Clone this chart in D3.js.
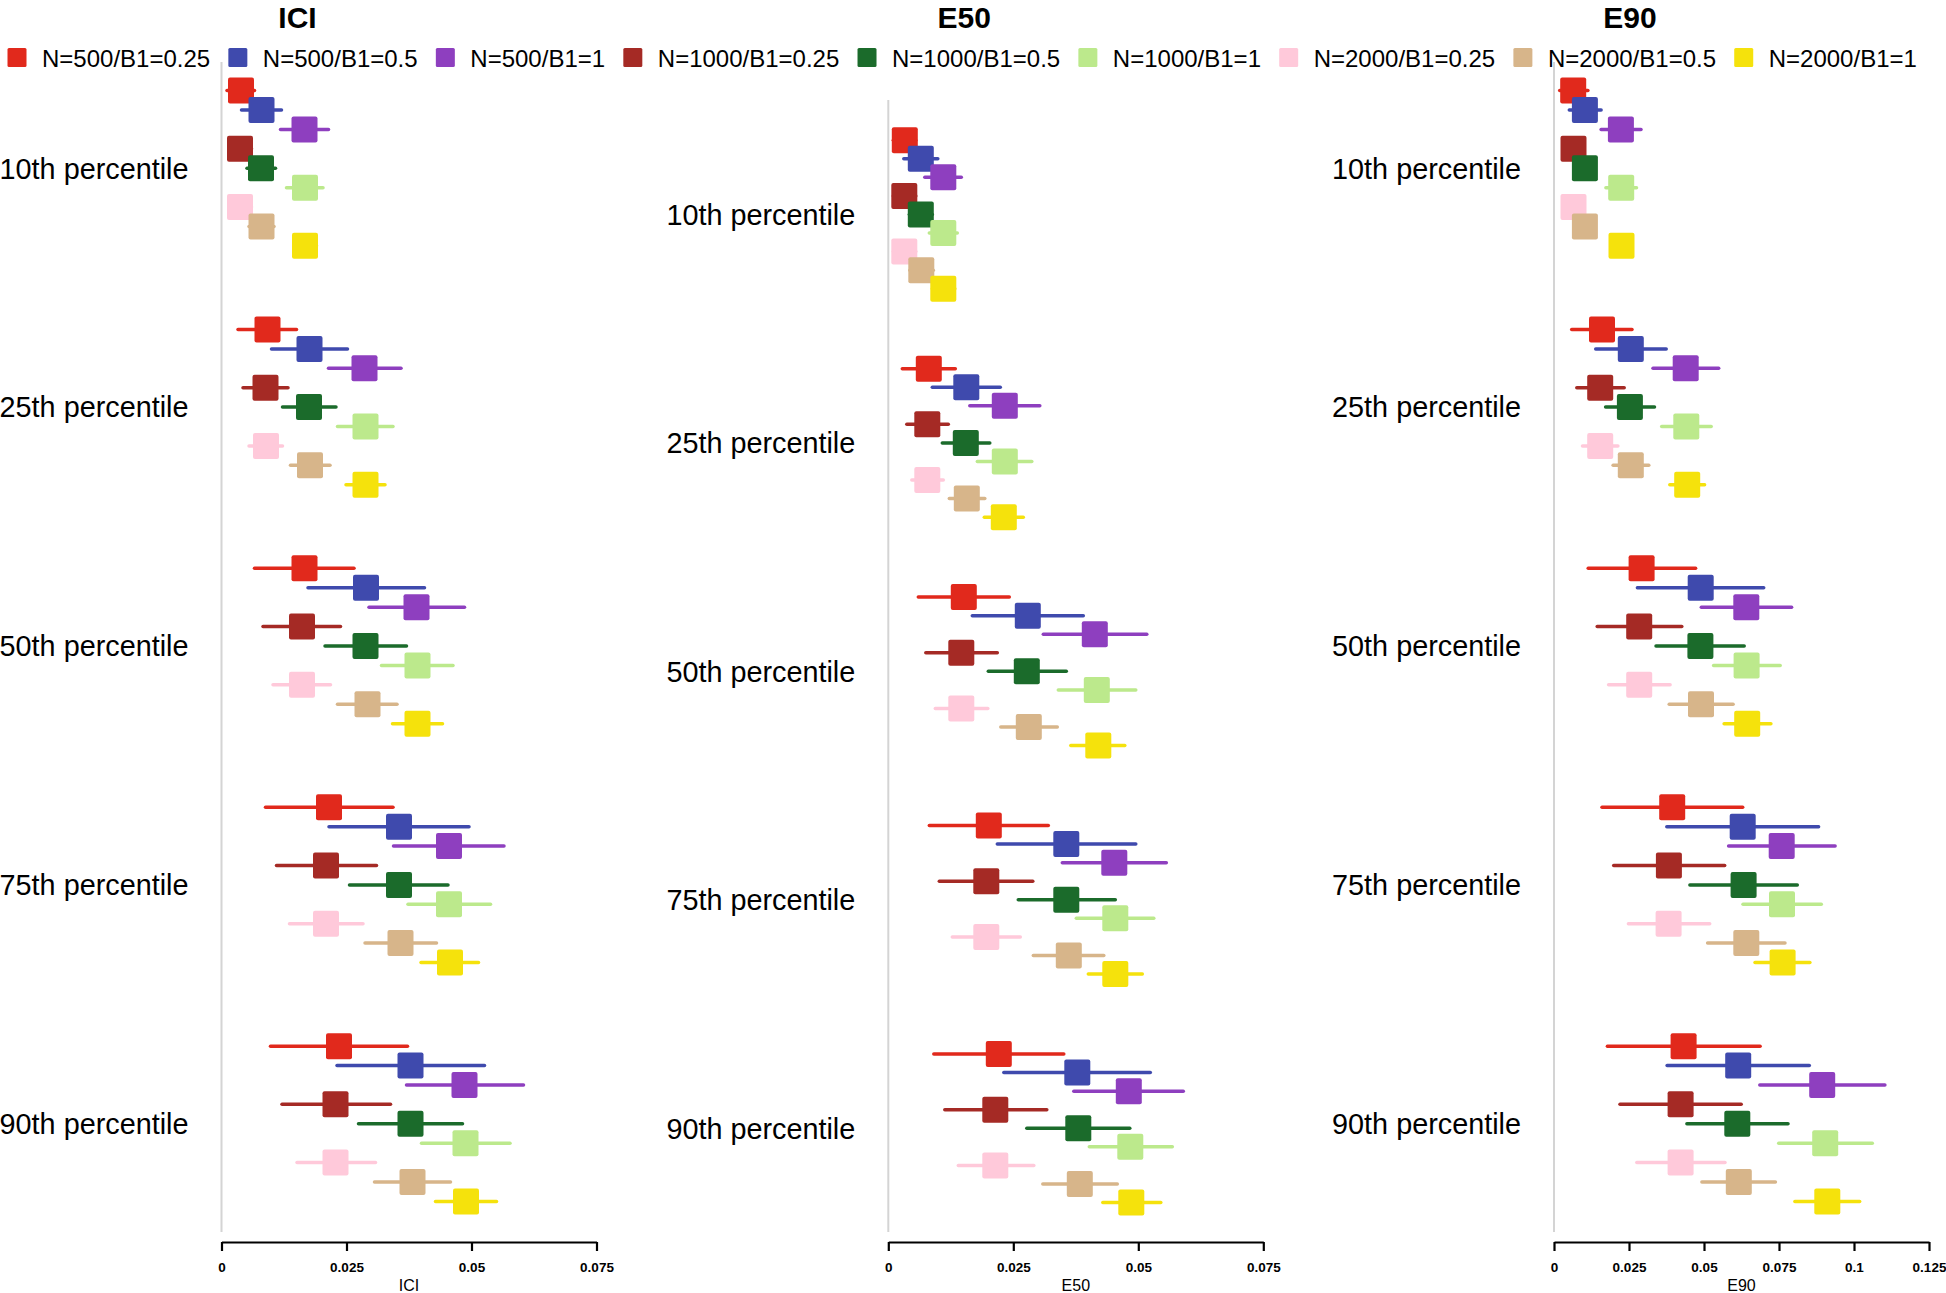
<!DOCTYPE html>
<html><head><meta charset="utf-8">
<script src="https://cdn.jsdelivr.net/npm/d3@7"></script>
<style>html,body{margin:0;padding:0;background:#fff;}svg{display:block;font-family:"Liberation Sans",Arial,Helvetica,sans-serif;}</style>
</head><body>
<svg id="chart" width="1946" height="1293"></svg>
<script>
const percentiles = ["10th percentile","25th percentile","50th percentile","75th percentile","90th percentile"];
const seriesNames = ["N=500/B1=0.25","N=500/B1=0.5","N=500/B1=1","N=1000/B1=0.25","N=1000/B1=0.5","N=1000/B1=1","N=2000/B1=0.25","N=2000/B1=0.5","N=2000/B1=1"];
const seriesColors = ["#e1291c","#3f4aad","#8e3fbf","#a52a25","#1b6b2b","#bce98c","#ffc9da","#d7b58a","#f5e20c"];
const panelTitles = ["ICI","E50","E90"];
const iciTicks = [0,0.025,0.05,0.075];
const e50Ticks = [0,0.025,0.05,0.075];
const e90Ticks = [0,0.025,0.05,0.075,0.1,0.125];

// rows = percentiles, columns = series
const iciEst = [
 [0.0039,0.0080,0.0166,0.0037,0.0079,0.0167,0.0037,0.0080,0.0167],
 [0.0092,0.0176,0.0286,0.0088,0.0175,0.0288,0.0089,0.0177,0.0288],
 [0.0166,0.0289,0.0390,0.0161,0.0288,0.0392,0.0161,0.0292,0.0392],
 [0.0215,0.0355,0.0455,0.0209,0.0355,0.0455,0.0209,0.0358,0.0457],
 [0.0235,0.0378,0.0486,0.0228,0.0378,0.0488,0.0228,0.0382,0.0489]];
const iciLo = [
 [0.0011,0.0040,0.0118,0.0015,0.0051,0.0130,0.0015,0.0055,0.0145],
 [0.0033,0.0100,0.0214,0.0043,0.0122,0.0232,0.0055,0.0138,0.0249],
 [0.0066,0.0173,0.0295,0.0083,0.0207,0.0320,0.0103,0.0232,0.0342],
 [0.0088,0.0215,0.0344,0.0110,0.0256,0.0373,0.0136,0.0287,0.0399],
 [0.0098,0.0231,0.0370,0.0121,0.0274,0.0400,0.0151,0.0306,0.0428]];
const iciHi = [
 [0.0066,0.0120,0.0214,0.0060,0.0108,0.0203,0.0060,0.0105,0.0190],
 [0.0150,0.0252,0.0359,0.0133,0.0229,0.0343,0.0122,0.0217,0.0327],
 [0.0265,0.0406,0.0486,0.0238,0.0370,0.0463,0.0218,0.0351,0.0442],
 [0.0343,0.0495,0.0565,0.0310,0.0453,0.0538,0.0283,0.0430,0.0514],
 [0.0372,0.0526,0.0604,0.0338,0.0482,0.0577,0.0308,0.0458,0.0550]];

const e50Est = [
 [0.0033,0.0065,0.0110,0.0032,0.0065,0.0110,0.0032,0.0066,0.0110],
 [0.0081,0.0156,0.0233,0.0078,0.0155,0.0233,0.0078,0.0157,0.0231],
 [0.0151,0.0279,0.0413,0.0146,0.0277,0.0417,0.0146,0.0281,0.0420],
 [0.0201,0.0356,0.0452,0.0196,0.0356,0.0454,0.0196,0.0361,0.0454],
 [0.0221,0.0378,0.0481,0.0214,0.0380,0.0484,0.0214,0.0383,0.0486]];
const e50Lo = [
 [0.0010,0.0031,0.0073,0.0010,0.0042,0.0082,0.0010,0.0043,0.0088],
 [0.0028,0.0088,0.0163,0.0037,0.0108,0.0178,0.0047,0.0122,0.0192],
 [0.0060,0.0168,0.0310,0.0075,0.0200,0.0340,0.0094,0.0225,0.0365],
 [0.0082,0.0218,0.0348,0.0102,0.0260,0.0376,0.0128,0.0290,0.0400],
 [0.0091,0.0231,0.0371,0.0113,0.0277,0.0402,0.0140,0.0309,0.0429]];
const e50Hi = [
 [0.0055,0.0099,0.0146,0.0055,0.0088,0.0138,0.0055,0.0090,0.0133],
 [0.0134,0.0224,0.0303,0.0120,0.0203,0.0287,0.0110,0.0193,0.0270],
 [0.0242,0.0390,0.0517,0.0218,0.0356,0.0495,0.0199,0.0338,0.0473],
 [0.0320,0.0495,0.0556,0.0289,0.0454,0.0531,0.0264,0.0431,0.0508],
 [0.0351,0.0524,0.0590,0.0317,0.0483,0.0568,0.0291,0.0458,0.0545]];

const e90Est = [
 [0.0064,0.0103,0.0223,0.0065,0.0103,0.0224,0.0065,0.0103,0.0225],
 [0.0160,0.0256,0.0439,0.0154,0.0253,0.0441,0.0154,0.0256,0.0444],
 [0.0292,0.0489,0.0641,0.0284,0.0488,0.0642,0.0284,0.0490,0.0644],
 [0.0394,0.0629,0.0759,0.0383,0.0632,0.0760,0.0382,0.0641,0.0762],
 [0.0432,0.0614,0.0894,0.0422,0.0611,0.0904,0.0422,0.0616,0.0911]];
const e90Lo = [
 [0.0019,0.0051,0.0157,0.0035,0.0075,0.0173,0.0035,0.0075,0.0195],
 [0.0059,0.0139,0.0330,0.0076,0.0172,0.0359,0.0095,0.0197,0.0386],
 [0.0114,0.0278,0.0491,0.0144,0.0340,0.0532,0.0182,0.0384,0.0567],
 [0.0160,0.0376,0.0582,0.0199,0.0453,0.0630,0.0248,0.0512,0.0670],
 [0.0178,0.0377,0.0686,0.0220,0.0443,0.0749,0.0276,0.0493,0.0803]];
const e90Hi = [
 [0.0113,0.0157,0.0290,0.0095,0.0130,0.0275,0.0095,0.0130,0.0255],
 [0.0260,0.0374,0.0549,0.0234,0.0335,0.0524,0.0213,0.0316,0.0502],
 [0.0472,0.0699,0.0792,0.0426,0.0634,0.0754,0.0387,0.0597,0.0723],
 [0.0629,0.0882,0.0937,0.0569,0.0811,0.0891,0.0519,0.0770,0.0853],
 [0.0687,0.0851,0.1103,0.0624,0.0780,0.1061,0.0570,0.0738,0.1019]];

const svg = d3.select("#chart");
const color = d3.scaleOrdinal().domain(seriesNames).range(seriesColors);

const panels = [
  {title: panelTitles[0], est: iciEst, lo: iciLo, hi: iciHi, ticks: iciTicks, max: 0.075, x0: 221.5, x1: 596.5, lineTop: 62, rowTop: 90.6, rowBot: 1201.4},
  {title: panelTitles[1], est: e50Est, lo: e50Lo, hi: e50Hi, ticks: e50Ticks, max: 0.075, x0: 888.3, x1: 1263.3, lineTop: 100, rowTop: 140.2, rowBot: 1202.5},
  {title: panelTitles[2], est: e90Est, lo: e90Lo, hi: e90Hi, ticks: e90Ticks, max: 0.125, x0: 1554, x1: 1929, lineTop: 62, rowTop: 90.6, rowBot: 1201.4}
];
const axisY = 1242;
const sq = 26;
const fmt = d => d === 0 ? "0" : String(+d.toFixed(3));

panels.forEach(p => {
  const g = svg.append("g");
  const x = d3.scaleLinear().domain([0, p.max]).range([p.x0, p.x1]);
  const yG = d3.scaleBand().domain(percentiles).range([p.rowTop, p.rowBot]).paddingInner(0.35).paddingOuter(0);
  const yI = d3.scalePoint().domain(seriesNames).range([0, yG.bandwidth()]);

  // vertical grey axis line
  g.append("line").attr("x1", p.x0).attr("x2", p.x0).attr("y1", p.lineTop).attr("y2", axisY - 10)
    .attr("stroke", "#d4d4d4").attr("stroke-width", 2);

  // title
  g.append("text").attr("x", p.x0 + 76).attr("y", 28).attr("text-anchor", "middle")
    .attr("font-size", 30).attr("font-weight", "bold").attr("fill", "#000").text(p.title);

  // percentile labels
  percentiles.forEach(pc => {
    g.append("text").attr("x", p.x0 - 33).attr("y", yG(pc) + yI(seriesNames[4]))
      .attr("dy", "0.36em").attr("text-anchor", "end").attr("font-size", 28.8).attr("fill", "#000").text(pc);
  });

  // marks
  percentiles.forEach((pc, gi) => {
    seriesNames.forEach((s, si) => {
      const yy = yG(pc) + yI(s);
      g.append("line").attr("x1", x(p.lo[gi][si])).attr("x2", x(p.hi[gi][si]))
        .attr("y1", yy).attr("y2", yy).attr("stroke", color(s)).attr("stroke-width", 3.5).attr("stroke-linecap", "round");
      g.append("rect").attr("x", x(p.est[gi][si]) - sq/2).attr("y", yy - sq/2)
        .attr("width", sq).attr("height", sq).attr("rx", 2).attr("fill", color(s));
    });
  });

  // bottom axis
  const ax = g.append("g").attr("transform", `translate(0,${axisY})`)
    .call(d3.axisBottom(x).tickValues(p.ticks).tickFormat(fmt).tickSize(9).tickSizeOuter(0).tickPadding(11));
  ax.select(".domain").attr("stroke", "#000").attr("stroke-width", 2.2);
  ax.selectAll(".tick line").attr("stroke", "#000").attr("stroke-width", 2.2);
  ax.selectAll(".tick text").attr("font-size", 13.5).attr("font-weight", "bold").attr("fill", "#000")
    .attr("font-family", "'Liberation Sans',Arial,sans-serif");
  g.append("text").attr("x", (p.x0 + p.x1) / 2).attr("y", 1291).attr("text-anchor", "middle")
    .attr("font-size", 16).attr("fill", "#000").text(p.title);
});

// legend
const leg = svg.append("g");
let lx = 7.5;
seriesNames.forEach(s => {
  leg.append("rect").attr("x", lx).attr("y", 48).attr("width", 19).attr("height", 19).attr("rx", 1.5).attr("fill", color(s));
  const t = leg.append("text").attr("x", lx + 34.5).attr("y", 67).attr("font-size", 24).attr("fill", "#000").text(s);
  lx = lx + 34.5 + t.node().getComputedTextLength() + 18.2;
});
</script>
</body></html>
